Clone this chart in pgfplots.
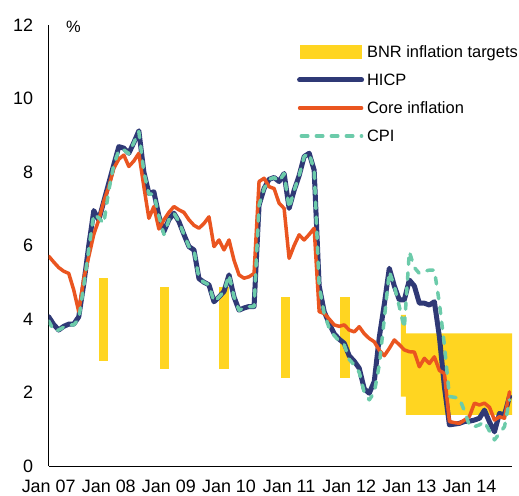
\documentclass[border=0pt]{standalone}
\usepackage{pgfplots}
\usepackage{pgfplotstable}
\pgfplotsset{compat=1.18}
\usepackage{fontspec}
\setmainfont{Liberation Sans}
\definecolor{bnryellow}{HTML}{FFD521}
\definecolor{hicpnavy}{HTML}{2F3976}
\definecolor{coreorange}{HTML}{EA5520}
\definecolor{cputeal}{HTML}{6CCBAA}
\pgfplotsset{
  rectleg/.style={legend image code/.code={\fill[##1] (0bp,-6.65bp) rectangle (62bp,6.65bp);}},
  lineleg/.style={legend image code/.code={\draw[##1] (0bp,0bp) -- (62bp,0bp);}},
  dashleg/.style={legend image code/.code={\draw[##1] (1.75bp,0bp) -- (62bp,0bp);}},
}
\pgfplotstableread{
m hicp core cpi
0 4.06 5.71 3.95
1 3.85 5.55 3.68
2 3.70 5.40 3.70
3 3.80 5.30 3.78
4 3.86 5.24 3.84
5 3.86 4.79 3.84
6 4.06 4.20 4.00
7 4.95 5.10 4.90
8 6.00 5.70 5.90
9 6.95 6.30 6.85
10 6.69 6.70 6.75
11 7.20 7.20 6.60
12 7.70 7.60 7.50
13 8.20 8.10 8.20
14 8.69 8.35 8.60
15 8.65 8.46 8.60
16 8.51 8.15 8.50
17 8.80 8.30 8.80
18 9.12 8.51 9.10
19 8.00 7.60 8.00
20 7.42 6.74 7.40
21 7.46 7.06 7.40
22 6.80 6.45 6.80
23 6.38 6.70 6.30
24 6.70 6.90 6.70
25 6.88 7.06 6.88
26 6.65 6.97 6.65
27 6.30 6.90 6.30
28 5.97 6.70 5.97
29 5.88 6.55 5.88
30 5.10 6.47 5.10
31 5.00 6.60 5.00
32 4.93 6.78 4.93
33 4.47 5.97 4.47
34 4.60 6.15 4.60
35 4.75 5.88 4.75
36 5.20 6.15 5.20
37 4.60 5.60 4.60
38 4.24 5.20 4.24
39 4.30 5.11 4.30
40 4.34 5.15 4.34
41 4.34 5.24 4.34
42 7.10 7.74 7.10
43 7.55 7.83 7.55
44 7.80 7.60 7.80
45 7.85 7.55 7.85
46 7.74 7.15 7.74
47 7.96 7.01 7.96
48 7.01 5.65 7.01
49 7.50 6.00 7.50
50 7.90 6.29 7.90
51 8.42 6.15 8.42
52 8.51 6.30 8.51
53 8.05 6.47 8.05
54 4.90 4.20 4.90
55 4.20 4.15 4.15
56 3.88 4.00 3.75
57 3.60 3.84 3.55
58 3.45 3.80 3.40
59 3.34 3.84 3.30
60 3.00 3.70 2.90
61 2.85 3.65 2.75
62 2.66 3.79 2.55
63 2.10 3.60 2.00
64 1.98 3.47 1.80
65 2.30 3.38 2.00
66 3.50 3.15 2.75
67 4.40 3.00 4.00
68 5.38 3.20 5.29
69 4.90 3.43 4.90
70 4.52 3.30 4.34
71 4.52 3.16 3.75
72 5.06 3.11 5.83
73 4.90 3.10 5.40
74 4.43 2.70 5.24
75 4.43 2.93 5.30
76 4.38 2.79 5.33
77 4.47 2.97 5.33
78 3.52 2.60 4.43
79 2.16 2.52 3.30
80 1.12 1.21 1.89
81 1.14 1.18 1.87
82 1.16 1.16 1.84
83 1.21 1.25 1.50
84 1.22 1.35 1.10
85 1.25 1.71 1.07
86 1.30 1.66 1.12
87 1.52 1.71 1.21
88 1.20 1.60 0.95
89 0.93 1.25 0.71
90 1.43 1.34 0.89
91 1.39 1.30 1.07
92 1.89 2.02 1.80
}\infl
\newcommand\tickfont{\fontsize{18}{20}\selectfont}
\newcommand\legfont{\fontsize{16.5}{18}\selectfont}
\begin{document}
\begin{tikzpicture}
\begin{axis}[
  at={(0,0)}, anchor=south west,
  scale only axis, width=463.3bp, height=441bp,
  xmin=0, xmax=92.5, ymin=0, ymax=12,
  axis x line=bottom, axis y line=left,
  axis line style={-, line width=0.8bp, black},
  xtick={0,12,24,36,48,60,72,84},
  xticklabels={Jan 07,Jan 08,Jan 09,Jan 10,Jan 11,Jan 12,Jan 13,Jan 14},
  ytick={0,2,4,6,8,10,12},
  major tick length=0pt,
  clip mode=individual,
  /pgf/number format/assume math mode=true,
  tick label style={font=\tickfont, inner sep=0pt},
  xticklabel style={anchor=north, yshift=-14bp},
  yticklabel style={anchor=east, xshift=-15.5bp},
  legend cell align=left,
  legend style={draw=none, fill=none, font=\legfont, inner sep=0pt,
    at={(axis cs:49.55,11.49)}, anchor=north west,
    row sep=12bp, column sep=3bp,
    nodes={inner sep=0pt, text height=13.5bp, text depth=2.5bp}},
  line join=round,
]
\addplot[fill=bnryellow, draw=none, rectleg]
  coordinates {(10.0,2.87) (11.85,2.87) (11.85,5.11) (10.0,5.11)} -- cycle;
\addlegendentry{BNR inflation targets}
\addplot[fill=bnryellow, draw=none, forget plot]
  coordinates {(22.2,2.63) (24.0,2.63) (24.0,4.86) (22.2,4.86)} -- cycle;
\addplot[fill=bnryellow, draw=none, forget plot]
  coordinates {(34.1,2.63) (36.0,2.63) (36.0,4.86) (34.1,4.86)} -- cycle;
\addplot[fill=bnryellow, draw=none, forget plot]
  coordinates {(46.3,2.39) (48.1,2.39) (48.1,4.61) (46.3,4.61)} -- cycle;
\addplot[fill=bnryellow, draw=none, forget plot]
  coordinates {(58.2,2.39) (60.1,2.39) (60.1,4.61) (58.2,4.61)} -- cycle;
\addplot[fill=bnryellow, draw=none, forget plot]
  coordinates {(70.3,1.89) (71.3,1.89) (71.3,1.39) (92.5,1.39) (92.5,3.61) (71.3,3.61) (71.3,4.11) (70.3,4.11)} -- cycle;
\addplot[hicpnavy, line width=5bp, line cap=round, lineleg]
  table[x=m, y=hicp] {\infl};
\addlegendentry{HICP}
\addplot[coreorange, line width=3.5bp, line cap=round, lineleg]
  table[x=m, y=core] {\infl};
\addlegendentry{Core inflation}
\addplot[cputeal, line width=3.5bp, line cap=round, dash pattern=on 6.5bp off 8.5bp, dashleg]
  table[x=m, y=cpi] {\infl};
\addlegendentry{CPI}
\node[font=\legfont, anchor=center] at (axis cs:4.95,11.94) {\%};
\end{axis}
\pgfresetboundingbox
\useasboundingbox (-48.7bp,-30bp) rectangle (470.3bp,466bp);
\end{tikzpicture}
\end{document}
